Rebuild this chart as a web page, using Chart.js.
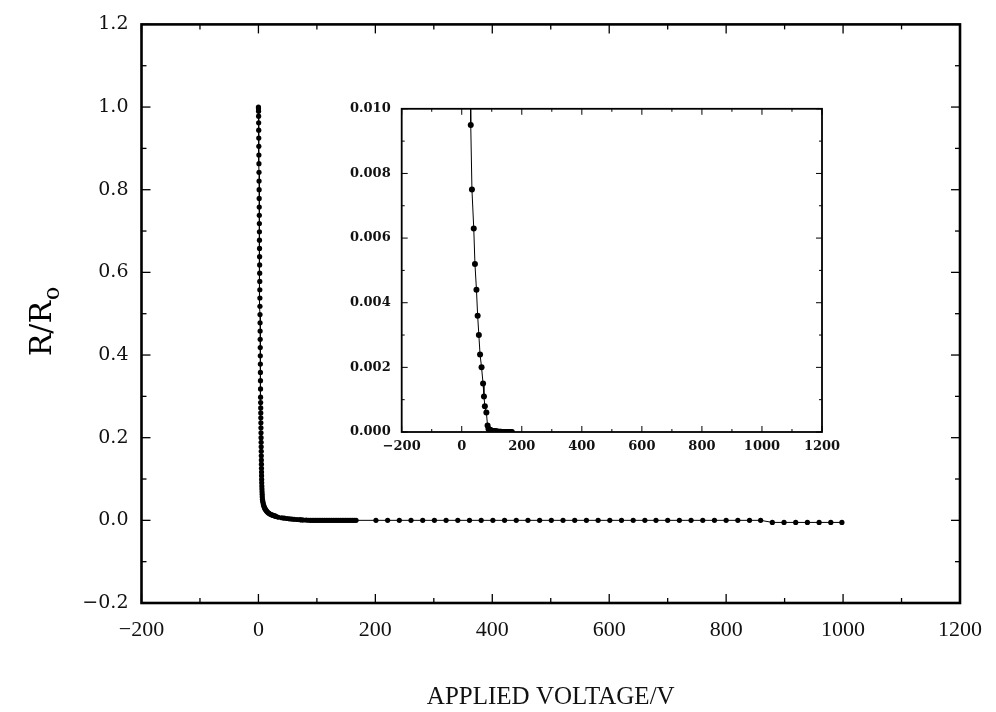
<!DOCTYPE html>
<html>
<head>
<meta charset="utf-8">
<script src="https://cdn.jsdelivr.net/npm/chart.js@4.4.1/dist/chart.umd.min.js"></script>
<style>
  html, body { margin: 0; padding: 0; background: #fff; }
  #wrap { position: relative; width: 996px; height: 712px; }
  #main { position: absolute; left: 0; top: 0; }
  #inset { position: absolute; left: 330px; top: 90px; }
</style>
</head>
<body>
<div id="wrap">
  <canvas id="main" width="996" height="712"></canvas>
  <canvas id="inset" width="520" height="380"></canvas>
</div>
<script>
// low voltage part (0 - 167 V), also shown in the inset
const lowVoltage = [
  0.0, 0.1, 0.2, 0.3, 0.4, 0.5, 0.6, 0.7, 0.8, 0.9, 1.0, 1.1, 1.2, 1.3, 1.4, 1.5, 1.6, 1.7, 1.8, 1.9,
  2.0, 2.1, 2.2, 2.3, 2.4, 2.5, 2.6, 2.7, 2.8, 2.9, 3.0, 3.1, 3.2, 3.3, 3.4, 3.5, 3.6, 3.7,
  3.8, 3.9, 4.0, 4.1, 4.2, 4.3, 4.4, 4.5, 4.6, 4.7, 4.8, 4.9, 5.0, 5.1, 5.2, 5.3, 5.4, 5.5, 5.6,
  5.8, 6.0, 6.2, 6.4, 6.6, 6.9,
  7.4, 8.0, 8.6, 9.3, 10.0, 10.8, 11.7, 12.7, 13.8, 15.0, 16.3, 17.7, 19.2, 20.8, 22.5, 24.3, 26.2, 28.1,
  30, 34, 40, 44, 49, 53, 57, 61, 66, 71, 74, 77, 82, 86, 89,
  92, 95, 98, 101, 104, 107, 110, 113, 116, 119, 122, 125, 128, 131, 134, 137, 140, 143, 146, 149,
  152, 155, 158, 161, 164, 167
];
const lowRatio = [
  1.000, 0.996, 0.990, 0.978, 0.962, 0.944, 0.925, 0.905, 0.884, 0.863, 0.842, 0.821, 0.800, 0.779,
  0.758, 0.738, 0.718, 0.698, 0.678, 0.658, 0.638, 0.618, 0.598, 0.578, 0.558, 0.538, 0.518, 0.498,
  0.478, 0.458, 0.438, 0.418, 0.398, 0.378, 0.358, 0.338, 0.318, 0.298,
  0.285, 0.272, 0.260, 0.248, 0.236, 0.224, 0.212, 0.200, 0.189, 0.178, 0.167, 0.156, 0.146, 0.136,
  0.126, 0.117, 0.108, 0.099, 0.091, 0.083, 0.076, 0.069, 0.063, 0.057, 0.051,
  0.046, 0.042, 0.038, 0.035, 0.032, 0.0295, 0.027, 0.0248, 0.0228, 0.0208, 0.019, 0.0173, 0.0158,
  0.0145, 0.0134, 0.0124, 0.0116, 0.0107,
  0.0095, 0.0075, 0.0063, 0.0052, 0.0044, 0.0036, 0.0030, 0.0024, 0.0020, 0.0015, 0.0011, 0.0008,
  0.0006, 0.0002, 0.0001,
  0.00008, 0.00006, 0.00005, 0.00004, 0.00003, 0.00003, 0.00002, 0.00002, 0.00002, 0.00001,
  0.00001, 0.00001, 0.00001, 0.00001, 0, 0, 0, 0, 0, 0, 0, 0, 0, 0, 0, 0
];

// high voltage part (200 - 1000 V)
const highVoltage = [
  201, 221, 241, 261, 281, 301, 321, 341, 361, 381, 401, 421, 441, 461, 481, 501, 521, 541, 561, 581,
  601, 621, 641, 661, 680, 700, 720, 740, 760, 780, 800, 820, 840, 859, 879, 899, 919, 939, 959, 979, 998
];
const highRatio = [
  0, 0, 0, 0, 0, 0, 0, 0, 0, 0, 0, 0, 0, 0, 0, 0, 0, 0, 0, 0,
  0, 0, 0, 0, 0, 0, 0, 0, 0, 0, 0, 0, 0, 0, -0.005, -0.005, -0.005, -0.005, -0.005, -0.005, -0.005
];

const mainXTicks = [-200, 0, 200, 400, 600, 800, 1000, 1200];
const mainYTicks = [-0.2, 0.0, 0.2, 0.4, 0.6, 0.8, 1.0, 1.2];
const insetYTicks = [0.000, 0.002, 0.004, 0.006, 0.008, 0.010];

const toPoints = (xs, ys) => xs.map((v, i) => ({ x: v, y: ys[i] }));
const minus = (s) => s.replace("-", "\u2212");

// frame round the plot area, with inward ticks on all four sides
const framePlugin = {
  id: "frame",
  afterDraw(chart, args, opts) {
    const { ctx, chartArea: a, scales } = chart;
    const x = scales.x, y = scales.y;
    ctx.save();
    ctx.strokeStyle = "#000";
    ctx.lineWidth = opts.tickWidth;
    const line = (x1, y1, x2, y2) => {
      ctx.beginPath();
      ctx.moveTo(x1, y1);
      ctx.lineTo(x2, y2);
      ctx.stroke();
    };
    const xv = x.ticks.map((t) => t.value);
    const yv = y.ticks.map((t) => t.value);
    const tickX = (v, len) => {
      const p = x.getPixelForValue(v);
      line(p, a.bottom, p, a.bottom - len);
      line(p, a.top, p, a.top + len);
    };
    const tickY = (v, len) => {
      const p = y.getPixelForValue(v);
      line(a.left, p, a.left + len, p);
      line(a.right, p, a.right - len, p);
    };
    xv.forEach((v, i) => {
      tickX(v, opts.major);
      if (i < xv.length - 1) tickX((v + xv[i + 1]) / 2, opts.minor);
    });
    yv.forEach((v, i) => {
      tickY(v, opts.major);
      if (i < yv.length - 1) tickY((v + yv[i + 1]) / 2, opts.minor);
    });
    ctx.lineWidth = opts.border;
    ctx.strokeRect(a.left, a.top, a.right - a.left, a.bottom - a.top);
    ctx.restore();
  },
};

// y axis title with a subscript
const yTitlePlugin = {
  id: "ytitle",
  afterDraw(chart) {
    const ctx = chart.ctx;
    ctx.save();
    ctx.translate(40, 322);
    ctx.rotate(-Math.PI / 2);
    ctx.fillStyle = "#000";
    ctx.textBaseline = "alphabetic";
    const big = '30px "DejaVu Serif"';
    const small = '22px "DejaVu Serif"';
    ctx.font = big;
    const w1 = ctx.measureText("R/R").width;
    ctx.font = small;
    const w2 = ctx.measureText("o").width;
    const start = -(w1 + w2) / 2;
    ctx.font = big;
    ctx.fillText("R/R", start, 11);
    ctx.font = small;
    ctx.fillText("o", start + w1 + 1, 19);
    ctx.restore();
  },
};

const mainChart = function () {
  const el = document.getElementById("main");
  new Chart(el, {
    type: "line",
    data: {
      datasets: [
        {
          data: toPoints(lowVoltage.concat(highVoltage), lowRatio.concat(highRatio)),
          borderColor: "#000",
          borderWidth: 1,
          backgroundColor: "#000",
          pointRadius: 2.6,
          pointBorderWidth: 0,
          pointBackgroundColor: "#000",
          tension: 0,
        },
      ],
    },
    options: {
      responsive: false,
      animation: false,
      layout: { padding: { left: 0, top: 19, right: 33, bottom: 0 } },
      plugins: {
        legend: { display: false },
        tooltip: { enabled: false },
        frame: { major: 9, minor: 5, tickWidth: 1.3, border: 2.6 },
      },
      scales: {
        x: {
          type: "linear",
          min: -200,
          max: 1200,
          afterBuildTicks: (s) => { s.ticks = mainXTicks.map((v) => ({ value: v })); },
          ticks: {
            color: "#111",
            font: { family: "Liberation Serif", size: 22 },
            padding: 14,
            maxRotation: 0,
            callback: (v) => minus(String(v)),
          },
          grid: { display: false, drawTicks: false },
          border: { display: false },
          title: {
            display: true,
            text: "APPLIED VOLTAGE/V",
            color: "#111",
            font: { family: "Liberation Serif", size: 25 },
            padding: { top: 0, bottom: 0 },
          },
          afterFit: (s) => { s.height = 109; },
        },
        y: {
          type: "linear",
          min: -0.2,
          max: 1.2,
          afterBuildTicks: (s) => { s.ticks = mainYTicks.map((v) => ({ value: v })); },
          ticks: {
            color: "#111",
            font: { family: "DejaVu Serif", size: 19 },
            padding: 13,
            callback: (v) => minus((Math.abs(v) < 1e-9 ? 0 : v).toFixed(1)),
          },
          grid: { display: false, drawTicks: false },
          border: { display: false },
          afterFit: (s) => { s.width = 141.5; },
        },
      },
    },
    plugins: [framePlugin, yTitlePlugin],
  });
};

const insetChart = function () {
  const el = document.getElementById("inset");
  new Chart(el, {
    type: "line",
    data: {
      datasets: [
        {
          data: toPoints(lowVoltage, lowRatio),
          borderColor: "#000",
          borderWidth: 1,
          backgroundColor: "#000",
          pointRadius: 3,
          pointBorderWidth: 0,
          pointBackgroundColor: "#000",
          tension: 0,
        },
      ],
    },
    options: {
      responsive: false,
      animation: false,
      layout: { padding: { left: 0, top: 10, right: 28, bottom: 0 } },
      plugins: {
        legend: { display: false },
        tooltip: { enabled: false },
        frame: { major: 6, minor: 3, tickWidth: 1, border: 1.8 },
      },
      scales: {
        x: {
          type: "linear",
          min: -200,
          max: 1200,
          afterBuildTicks: (s) => { s.ticks = mainXTicks.map((v) => ({ value: v })); },
          ticks: {
            color: "#111",
            font: { family: "DejaVu Serif", size: 13, weight: "bold" },
            padding: 7,
            maxRotation: 0,
            callback: (v) => minus(String(v)),
          },
          grid: { display: false, drawTicks: false },
          border: { display: false },
          afterFit: (s) => { s.height = 38; },
        },
        y: {
          type: "linear",
          min: 0,
          max: 0.01,
          afterBuildTicks: (s) => { s.ticks = insetYTicks.map((v) => ({ value: v })); },
          ticks: {
            color: "#111",
            font: { family: "DejaVu Serif", size: 13, weight: "bold" },
            padding: 11,
            callback: (v) => v.toFixed(3),
          },
          grid: { display: false, drawTicks: false },
          border: { display: false },
          afterFit: (s) => { s.width = 71.7; },
        },
      },
    },
    plugins: [framePlugin],
  });
};

const init = function () {
  mainChart();
  insetChart();
};

document.addEventListener("DOMContentLoaded", init);
</script>
</body>
</html>
